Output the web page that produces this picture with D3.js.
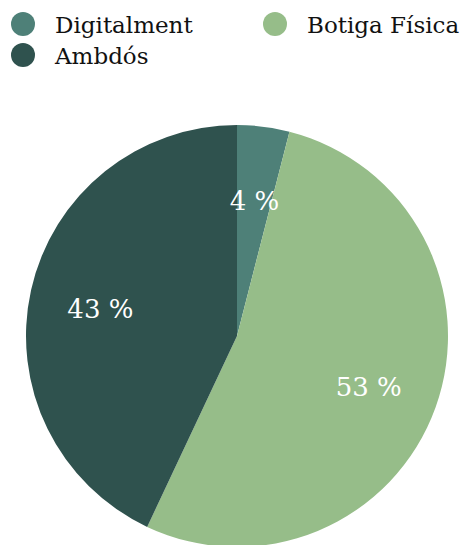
<!DOCTYPE html>
<html>
<head>
  <meta charset="utf-8">
  <style>
    body { margin: 0; background: #fff; }
    svg { display: block; }
  </style>
  <script src="https://d3js.org/d3.v7.min.js"></script>
</head>
<body>
  <div id="container"></div>
  <script>
    // data
    const categories = ["Digitalment", "Botiga Física", "Ambdós"];
    const values = [4, 53, 43];
    const colors = ["#4e8078", "#96bd89", "#2f524e"];

    const width = 463, height = 545;
    const cx = 237, cy = 336, radius = 211;
    const fontFamily = "'DejaVu Serif', Georgia, serif";

    const svg = d3.select("#container")
      .append("svg")
      .attr("width", width)
      .attr("height", height);

    const color = d3.scaleOrdinal().domain(categories).range(colors);

    const pie = d3.pie().sort(null).value(function(d){ return d.value; });
    const data = categories.map(function(c, i){ return {name: c, value: values[i]}; });
    const arcs = pie(data);

    const arc = d3.arc().innerRadius(0).outerRadius(radius);
    const labelArc = d3.arc().innerRadius(140).outerRadius(140);

    const g = svg.append("g").attr("transform", "translate(" + cx + "," + cy + ")");

    // slices first, labels on top
    g.selectAll("path")
      .data(arcs)
      .enter()
      .append("path")
      .attr("d", arc)
      .attr("fill", function(d){ return color(d.data.name); });

    g.selectAll("text")
      .data(arcs)
      .enter()
      .append("text")
      .attr("transform", function(d){ return "translate(" + labelArc.centroid(d) + ")"; })
      .attr("dy", 4)
      .attr("text-anchor", "middle")
      .attr("dominant-baseline", "central")
      .attr("font-family", fontFamily)
      .attr("font-size", 26)
      .attr("fill", "#fff")
      .text(function(d){ return d.data.value + " %"; });

    // legend
    const legendPos = [[23, 24], [275, 24], [23, 55]];
    const legend = svg.selectAll("g.legend")
      .data(data)
      .enter()
      .append("g")
      .attr("class", "legend")
      .attr("transform", function(d, i){ return "translate(" + legendPos[i][0] + "," + legendPos[i][1] + ")"; });

    legend.append("circle")
      .attr("r", 12)
      .attr("fill", function(d){ return color(d.name); });

    legend.append("text")
      .attr("x", 32)
      .attr("y", 9)
      .attr("font-family", fontFamily)
      .attr("font-size", 23)
      .attr("fill", "#111")
      .text(function(d){ return d.name; });
  </script>
</body>
</html>
